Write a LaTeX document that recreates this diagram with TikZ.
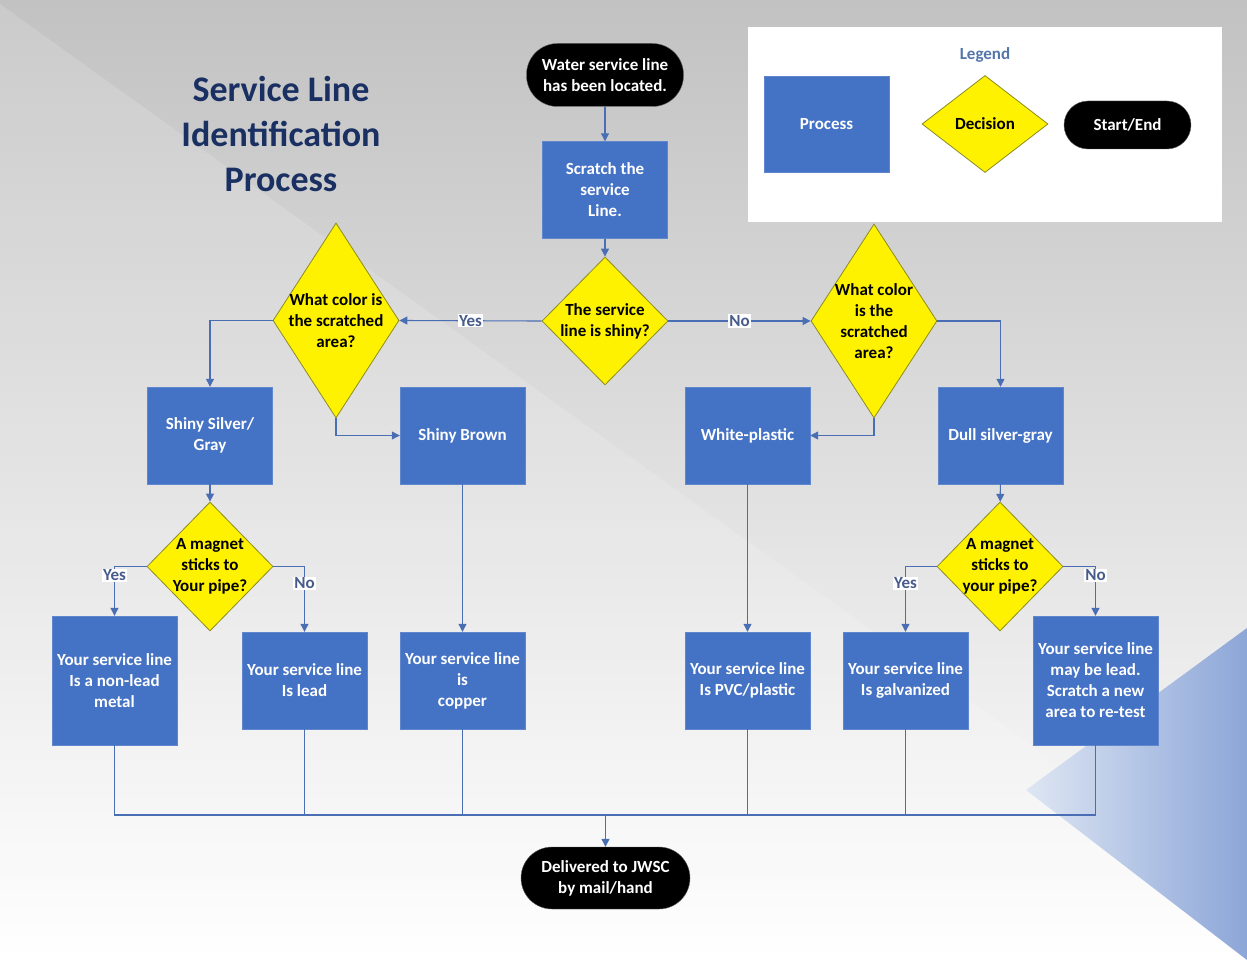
\documentclass[tikz,border=0pt]{standalone}
\usepackage{fontspec}
\setmainfont{Carlito}
\usetikzlibrary{shapes.geometric,arrows.meta,calc}
\definecolor{pblue}{RGB}{68,114,196}
\definecolor{lblue}{RGB}{74,110,180}
\definecolor{dborder}{RGB}{140,140,30}
\definecolor{navy}{RGB}{26,48,98}
\definecolor{legtxt}{RGB}{84,118,170}
\definecolor{lbltxt}{RGB}{72,92,140}
\definecolor{bgtop}{RGB}{194,194,194}
\definecolor{bgmid}{RGB}{224,224,224}
\definecolor{triL}{RGB}{222,230,243}
\definecolor{triR}{RGB}{140,166,216}
\begin{document}
\begin{tikzpicture}[x=1pt,y=-1pt,
  txt/.style={font=\bfseries\fontsize{17}{21}\selectfont, align=center},
  proc/.style={txt, rectangle, fill=pblue, draw=pblue!85!white, text=white,
    minimum width=125pt, minimum height=97pt, inner sep=1pt},
  tallproc/.style={proc, minimum height=129pt},
  dec/.style={diamond, fill=yellow, draw=dborder, line width=0.8pt,
    minimum width=126pt, minimum height=128pt, inner sep=0pt},
  dectext/.style={txt, text=black, inner sep=0pt},
  term/.style={txt, rectangle, fill=black, draw=black!60, text=white, inner sep=1pt},
  conn/.style={draw=lblue, line width=1.1pt},
  arr/.style={conn, -{Triangle[length=8pt,width=8pt]}},
  lbl/.style={font=\fontsize{17}{18}\selectfont\bfseries, text=lbltxt, fill=white,
    inner sep=1pt}
]
\useasboundingbox (0,0) rectangle (1247,960);
% background
\shade[top color=bgtop, bottom color=white, middle color=bgmid] (0,0) rectangle (1247,960);
\fill[white, opacity=0.15] (0,4) -- (1247,900) -- (1247,960) -- (0,960) -- cycle;
\shade[left color=triL, right color=triR]
  (1247,628) -- (1026,790) -- (1247,960) -- cycle;

% title
\node[font=\bfseries\fontsize{36}{45}\selectfont, text=navy, align=center] (title)
  at (281,134) {Service Line\\Identification\\Process};

% legend
\fill[white] (748,27) rectangle (1222,222);
\node[font=\bfseries\fontsize{17}{18}\selectfont, text=legtxt] (legend) at (985,55) {Legend};
\node[proc, minimum width=125pt, minimum height=96pt] (lproc) at (826.5,124) {Process};
\node[dec, minimum width=126pt, minimum height=97pt, label={[dectext]center:Decision}] (ldec) at (985,124) {};
\node[term, rounded corners=24pt, minimum width=127pt, minimum height=48pt] (lterm) at (1127.5,125) {Start/End};

% flow nodes
\node[term, rounded corners=31pt, minimum width=157pt, minimum height=63pt] (start) at (605,75)
  {Water service line\\has been located.};
\node[proc] (scratch) at (605,190) {Scratch the\\service\\Line.};
\node[dec, label={[dectext]center:{The service\\line is shiny?}}] (d1) at (605,321) {};
\node[dec, minimum height=195pt, label={[dectext]center:{What color is\\the scratched\\area?}}] (dl) at (336,320.5) {};
\node[dec, minimum height=194pt, label={[dectext]center:{What color\\is the\\scratched\\area?}}] (dr) at (874,321) {};

\node[proc] (silver) at (210,435.5) {Shiny Silver/\\Gray};
\node[proc] (brown) at (462.5,435.5) {Shiny Brown};
\node[proc] (white) at (747.5,435.5) {White-plastic};
\node[proc] (dull) at (1000.5,435.5) {Dull silver-gray};

\node[dec, minimum height=129pt, label={[dectext]center:{A magnet\\sticks to\\Your pipe?}}] (m1) at (210,566.5) {};
\node[dec, minimum height=129pt, label={[dectext]center:{A magnet\\sticks to\\your pipe?}}] (m2) at (1000,566.5) {};

\node[tallproc] (nonlead) at (114.5,680.5) {Your service line\\Is a non-lead\\metal};
\node[proc] (lead) at (304.5,680.5) {Your service line\\Is lead};
\node[proc] (copper) at (462.5,680.5) {Your service line\\is\\copper};
\node[proc] (pvc) at (747.5,680.5) {Your service line\\Is PVC/plastic};
\node[proc] (galv) at (905.5,680.5) {Your service line\\Is galvanized};
\node[tallproc] (maylead) at (1095.5,680.5) {Your service line\\may be lead.\\Scratch a new\\area to re-test};

\node[term, rounded corners=31pt, minimum width=169pt, minimum height=62pt] (finish) at (605.5,878)
  {Delivered to JWSC\\by mail/hand};

% connectors
\draw[arr] (start) -- (scratch);
\draw[arr] (scratch) -- (d1);
\draw[arr] (d1.west) -- node[lbl]{Yes} (dl.east);
\draw[arr] (d1.east) -- node[lbl]{No} (dr.west);
\draw[arr] (dl.west) -| (silver.north);
\draw[arr] (dl.south) |- (brown.west);
\draw[arr] (dr.south) |- (white.east);
\draw[arr] (dr.east) -| (dull.north);
\draw[arr] (silver) -- (m1);
\draw[arr] (dull) -- (m2);
\draw[arr] (brown) -- (copper);
\draw[arr] (white) -- (pvc);
\draw[arr] (m1.west) -| node[lbl, pos=0.59]{Yes} (nonlead.north);
\draw[arr] (m1.east) -| node[lbl, pos=0.63]{No} (lead.north);
\draw[arr] (m2.west) -| node[lbl, pos=0.63]{Yes} (galv.north);
\draw[arr] (m2.east) -| node[lbl, pos=0.59]{No} (maylead.north);

\coordinate (bus) at (605.5,815);
\draw[conn] (nonlead.south) |- (bus);
\draw[conn] (lead.south) |- (bus);
\draw[conn] (copper.south) |- (bus);
\draw[conn] (pvc.south) |- (bus);
\draw[conn] (galv.south) |- (bus);
\draw[conn] (maylead.south) |- (bus);
\draw[arr] (bus) -- (finish);
\end{tikzpicture}
\end{document}
